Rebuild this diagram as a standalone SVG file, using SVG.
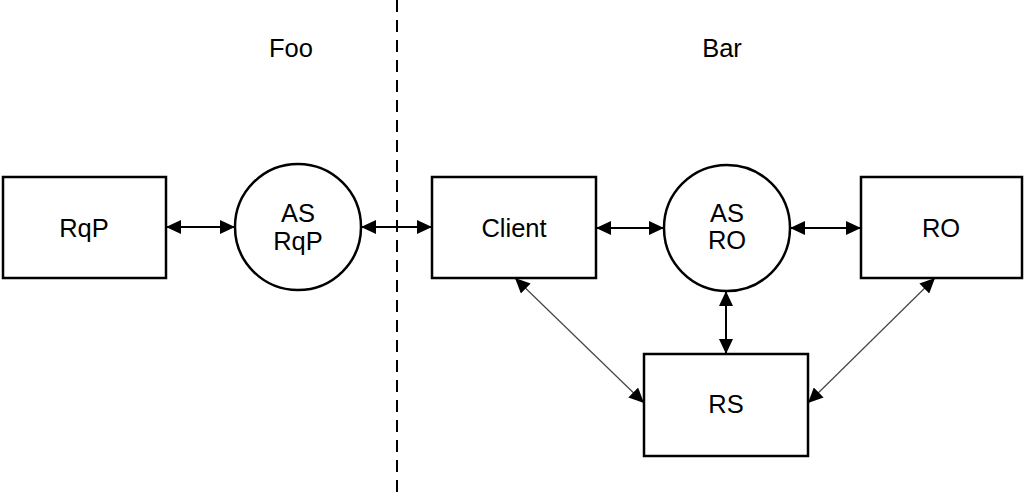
<svg xmlns="http://www.w3.org/2000/svg" width="1025" height="493" viewBox="0 0 1025 493">
<style>
.box{fill:#fff;stroke:#000;stroke-width:2.5}
.t{font-family:"Liberation Sans",Arial,sans-serif;font-size:25.5px;fill:#000;text-anchor:middle}
.c{fill:none;stroke:#000;stroke-width:2}
.c2{fill:none;stroke:#444;stroke-width:1.2}
</style>
<defs>
<marker id="ah" markerUnits="userSpaceOnUse" markerWidth="16" markerHeight="14" refX="15" refY="7" orient="auto-start-reverse" viewBox="0 0 16 14">
<path d="M0,0 L15,7 L0,14 z" fill="#000"/>
</marker>
</defs>
<rect x="0" y="0" width="1025" height="493" fill="#fff"/>
<line x1="397" y1="0" x2="397" y2="493" stroke="#000" stroke-width="2" stroke-dasharray="12,8"/>
<text class="t" x="291" y="57">Foo</text>
<text class="t" x="722" y="57">Bar</text>
<g id="connectors">
<line class="c" x1="166" y1="227" x2="235" y2="227" marker-start="url(#ah)" marker-end="url(#ah)"/>
<line class="c" x1="361" y1="227" x2="432" y2="227" marker-start="url(#ah)" marker-end="url(#ah)"/>
<line class="c" x1="596" y1="228" x2="664" y2="228" marker-start="url(#ah)" marker-end="url(#ah)"/>
<line class="c" x1="790" y1="228" x2="861" y2="228" marker-start="url(#ah)" marker-end="url(#ah)"/>
<line class="c" x1="726" y1="291" x2="726" y2="354" marker-start="url(#ah)" marker-end="url(#ah)"/>
<line class="c2" x1="515" y1="278" x2="644" y2="403" marker-start="url(#ah)" marker-end="url(#ah)"/>
<line class="c2" x1="935" y1="278" x2="808" y2="403" marker-start="url(#ah)" marker-end="url(#ah)"/>
</g>
<g id="rqp"><rect class="box" x="3" y="177" width="163" height="101"/><text class="t" x="84" y="237">RqP</text></g>
<g id="as-rqp"><circle class="box" cx="298" cy="227" r="63" stroke-width="2"/><text class="t" x="298" y="222">AS</text><text class="t" x="298" y="250">RqP</text></g>
<g id="client"><rect class="box" x="432" y="177" width="164" height="101"/><text class="t" x="514" y="237">Client</text></g>
<g id="as-ro"><circle class="box" cx="727" cy="228" r="63" stroke-width="2"/><text class="t" x="727" y="222">AS</text><text class="t" x="727" y="249">RO</text></g>
<g id="ro"><rect class="box" x="861" y="177" width="161" height="101"/><text class="t" x="941" y="237">RO</text></g>
<g id="rs"><rect class="box" x="644" y="354" width="164" height="102"/><text class="t" x="726" y="413">RS</text></g>
</svg>
